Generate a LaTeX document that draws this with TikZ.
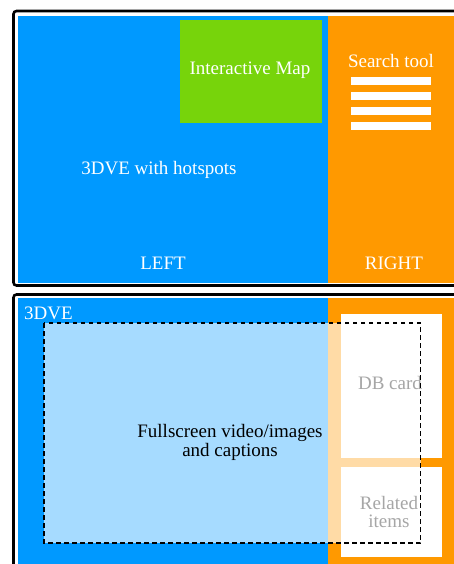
\documentclass[tikz,border=0pt]{standalone}
\usepackage{fontspec}
\setmainfont{Liberation Serif}
\definecolor{pblue}{HTML}{0099FF}
\definecolor{porange}{HTML}{FF9900}
\definecolor{pgreen}{HTML}{77D40B}
\tikzset{
  frame/.style={draw=black, line width=2.6pt, rounded corners=3pt},
  lbl/.style={font=\fontsize{19}{20}\selectfont, inner sep=0pt, align=center},
  wlbl/.style={lbl, text=white},
  bar/.style={fill=white, draw=none},
}
\begin{document}
\begin{tikzpicture}[x=1pt,y=-1pt]
\clip (0,0) rectangle (454,564);
\fill[white] (0,0) rectangle (454,564);
% top panel
\draw[frame] (13.5,11) rectangle (470,285.5);
\fill[pblue] (18,16) rectangle (328,283);
\fill[porange] (328,16) rectangle (460,283);
\node[fill=pgreen, minimum width=142pt, minimum height=103pt, inner sep=0pt, anchor=north west] (map) at (180,20) {};
\node[wlbl] (maplbl) at (250,70) {Interactive Map};
\node[wlbl] (search) at (391,61) {Search tool};
\fill[bar] (351,77) rectangle (431,85);
\fill[bar] (351,92) rectangle (431,100);
\fill[bar] (351,107) rectangle (431,115);
\fill[bar] (351,122) rectangle (431,130);
\node[wlbl] (hot) at (159,170) {3DVE with hotspots};
\node[wlbl] (left) at (163,263) {LEFT};
\node[wlbl] (right) at (394,263) {RIGHT};
% bottom panel
\draw[frame] (13.5,294.5) rectangle (470,600);
\fill[pblue] (18,298) rectangle (328,570);
\fill[porange] (328,298) rectangle (460,570);
\node[wlbl, anchor=west] (dve) at (24,313) {3DVE};
\fill[white] (341,314) rectangle (442,458);
\fill[white] (341,467) rectangle (442,557);
\node[lbl] (db) at (390,383) {DB card};
\node[lbl] (rel) at (389,512) {Related\\[-2pt]items};
\fill[white, opacity=0.65] (44,323) rectangle (420.5,543);
\draw[black, line width=1.8pt, dash pattern=on 4.5pt off 3.5pt] (44,323) rectangle (420.5,543);
\node[lbl] (full) at (230,442) {Fullscreen video/images\\[-1pt]and captions};
\end{tikzpicture}
\end{document}
